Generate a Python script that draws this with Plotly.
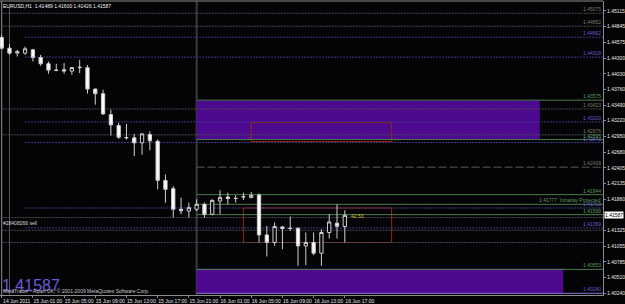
import plotly.graph_objects as go

# ---------------- data ----------------
bars = list(range(45))
opens = [1.44655, 1.44473, 1.44387, 1.44387, 1.44444, 1.44311, 1.44203, 1.44094, 1.44100, 1.44077,
         1.44137, 1.44134, 1.43767, 1.43687, 1.43325, 1.43136, 1.42924, 1.42924, 1.42838, 1.42981,
         1.42866, 1.42190, 1.42047, 1.41691, 1.41661, 1.41691, 1.41777, 1.41605, 1.41833, 1.41902,
         1.41880, 1.41909, 1.41892, 1.41937, 1.41248, 1.41118, 1.41386, 1.41364, 1.41364, 1.41059,
         1.41118, 1.40933, 1.41290, 1.41450, 1.41394]
highs = [1.44702, 1.44547, 1.44444, 1.44500, 1.44461, 1.44358, 1.44242, 1.44203, 1.44215, 1.44142,
         1.44272, 1.44180, 1.43772, 1.43755, 1.43411, 1.43182, 1.43165, 1.42993, 1.42998, 1.43038,
         1.42895, 1.42293, 1.42092, 1.41892, 1.41806, 1.41863, 1.41806, 1.41863, 1.42018, 1.41978,
         1.41932, 1.41978, 1.41988, 1.41966, 1.41403, 1.41462, 1.41403, 1.41565, 1.41376, 1.41290,
         1.41290, 1.41346, 1.41605, 1.41777, 1.41673]
lows = [1.44452, 1.44358, 1.44328, 1.44358, 1.44242, 1.44168, 1.44031, 1.44074, 1.44031, 1.44013,
        1.44043, 1.43687, 1.43497, 1.43325, 1.42964, 1.42907, 1.42895, 1.42608, 1.42632, 1.42711,
        1.42035, 1.41806, 1.41548, 1.41605, 1.41548, 1.41656, 1.41548, 1.41587, 1.41605, 1.41777,
        1.41806, 1.41851, 1.41889, 1.41118, 1.40877, 1.41059, 1.41002, 1.41317, 1.40715, 1.40727,
        1.40899, 1.40715, 1.41186, 1.41186, 1.41118]
closes = [1.44473, 1.44387, 1.44414, 1.44461, 1.44311, 1.44203, 1.44094, 1.44089, 1.44079, 1.44139,
          1.44142, 1.43767, 1.43687, 1.43337, 1.43148, 1.42935, 1.42929, 1.42838, 1.42993, 1.42873,
          1.42190, 1.42035, 1.41691, 1.41665, 1.41720, 1.41777, 1.41605, 1.41845, 1.41892, 1.41875,
          1.41877, 1.41906, 1.41932, 1.41248, 1.41118, 1.41393, 1.41359, 1.41360, 1.41059, 1.41118,
          1.40933, 1.41290, 1.41472, 1.41398, 1.41587]

x_tick_bars = [0, 4, 8, 12, 16, 20, 24, 28, 32, 36, 40, 44]
x_tick_text = ["14 Jun 2011", "15 Jun 01:00", "15 Jun 05:00", "15 Jun 09:00", "15 Jun 13:00",
               "15 Jun 17:00", "15 Jun 21:00", "16 Jun 01:00", "16 Jun 05:00", "16 Jun 09:00",
               "16 Jun 13:00", "16 Jun 17:00"]
y_tick_text = ["1.40240", "1.40510", "1.40785", "1.41055", "1.41325", "1.41860", "1.42135",
               "1.42405", "1.42680", "1.42950", "1.43220", "1.43490", "1.43760", "1.44030",
               "1.44300", "1.44575", "1.44845", "1.45115"]

gray_dot_levels = [1.45075, 1.44852, 1.43423, 1.42976, 1.41548, 1.41329, 1.41118]
gray_labelled = [1.45075, 1.44852, 1.43423, 1.42976]
blue_dot_levels = [1.44662, 1.44318, 1.43200, 1.42843, 1.41713, 1.41369]
green_levels = [1.43575, 1.42895, 1.41944, 1.41777, 1.41599, 1.40653]
green_suffix = ["", "", "", "  Intraday Projected", "", ""]
pivot_level = 1.42418
bottom_level = 1.40240

zone_start_bar = 25
upper_zone = (25, 69, 1.42895, 1.43575)
lower_zone = (25, 72, 1.40240, 1.40653)
red_boxes = [(32, 50, 1.42861, 1.43188), (31, 50, 1.41118, 1.41713)]

header_text = "EURUSD,H1  1.41489 1.41600 1.41426 1.41587"
last_price = 1.41587
order_text = "#28408266 sell"
order_level = 1.41462
profit_text = "42.53"
profit_pos = (45.6, 1.41575)

XMIN, XMAX = -0.217, 77.11
YMIN, YMAX = 1.40211, 1.45287

FONT = "Liberation Sans"
GRAY = "#4a4a54"
BLUE = "#3a3a8a"
GREEN = "#4a7c4a"

fig = go.Figure()
fig.add_trace(go.Candlestick(
    x=bars, open=opens, high=highs, low=lows, close=closes,
    increasing=dict(line=dict(color="#d0d0d0", width=1), fillcolor="#000000"),
    decreasing=dict(line=dict(color="#d0d0d0", width=1), fillcolor="#ffffff"),
    whiskerwidth=0, showlegend=False, hoverinfo="skip"))

shapes = []
for (x0, x1, y0, y1) in [upper_zone, lower_zone]:
    shapes.append(dict(type="rect", xref="x", yref="y", x0=x0, x1=x1, y0=y0, y1=y1,
                       fillcolor="#4d0a90", line=dict(width=0), layer="below"))
shapes.append(dict(type="line", xref="x", yref="y", x0=lower_zone[0], x1=lower_zone[1],
                   y0=lower_zone[3], y1=lower_zone[3], line=dict(color="#8a5ad8", width=1), layer="below"))
for (x0, x1, y0, y1) in red_boxes:
    shapes.append(dict(type="rect", xref="x", yref="y", x0=x0, x1=x1, y0=y0, y1=y1,
                       line=dict(color="#962808", width=1), layer="below"))
for v in gray_dot_levels:
    shapes.append(dict(type="line", xref="x", yref="y", x0=0, x1=XMAX, y0=v, y1=v,
                       line=dict(color=GRAY, width=1, dash="2px,1px"), layer="below"))
for v in blue_dot_levels:
    shapes.append(dict(type="line", xref="x", yref="y", x0=3, x1=XMAX, y0=v, y1=v,
                       line=dict(color=BLUE, width=1, dash="2px,1px"), layer="below"))
for v in green_levels:
    shapes.append(dict(type="line", xref="x", yref="y", x0=zone_start_bar, x1=XMAX, y0=v, y1=v,
                       line=dict(color=GREEN, width=1), layer="below"))
shapes.append(dict(type="line", xref="x", yref="y", x0=zone_start_bar, x1=XMAX, y0=pivot_level, y1=pivot_level,
                   line=dict(color="#5a5a5a", width=1, dash="8px,3px"), layer="below"))
shapes.append(dict(type="line", xref="x", yref="y", x0=zone_start_bar, x1=XMAX, y0=bottom_level, y1=bottom_level,
                   line=dict(color="#9070d8", width=1), layer="below"))
shapes.append(dict(type="line", xref="x", yref="paper", x0=zone_start_bar, x1=zone_start_bar, y0=0, y1=1,
                   line=dict(color="#3a3a3a", width=2), layer="below"))
shapes.append(dict(type="line", xref="x", yref="paper", x0=1, x1=1, y0=0, y1=0.98,
                   line=dict(color="#555555", width=1), layer="below"))
shapes.append(dict(type="line", xref="x", yref="paper", x0=0, x1=0, y0=0, y1=1,
                   line=dict(color="#909090", width=1), layer="below"))
shapes.append(dict(type="line", xref="paper", yref="paper", x0=0, x1=1, y0=1, y1=1,
                   line=dict(color="#8c8c8c", width=1)))

ann = []
def rlabel(v, text, color):
    ann.append(dict(xref="paper", yref="y", x=1, y=v, xanchor="right", yanchor="bottom", xshift=-1,
                    text=text, showarrow=False, borderpad=0,
                    font=dict(family=FONT, size=5, color=color)))

for v in gray_labelled:
    rlabel(v, f"{v:.5f}", "#7a7a66")
for v in blue_dot_levels:
    rlabel(v, f"{v:.5f}", "#6a5acd")
for v, s in zip(green_levels, green_suffix):
    rlabel(v, f"{v:.5f}{s}", "#5a9a5a")
rlabel(pivot_level, f"{pivot_level:.5f}", "#7a7a7a")
rlabel(bottom_level, f"{bottom_level:.5f}", "#6a5acd")

ann.append(dict(xref="paper", yref="y", x=1, y=last_price, xanchor="left", yanchor="middle", xshift=1,
                text=f"{last_price:.5f}", showarrow=False, bgcolor="#ffffff", borderpad=0,
                font=dict(family=FONT, size=5, color="#000000")))
ann.append(dict(xref="paper", yref="paper", x=0, y=1, xanchor="left", yanchor="top", xshift=2, yshift=-1,
                text=header_text, showarrow=False, borderpad=0,
                font=dict(family=FONT, size=5, color="#f0f0f0")))
ann.append(dict(xref="paper", yref="paper", x=0, y=0, xanchor="left", yanchor="bottom", xshift=1, yshift=0,
                text=f"{last_price:.5f}", showarrow=False, borderpad=0,
                font=dict(family=FONT, size=16, color="#6a5ad8")))
ann.append(dict(xref="paper", yref="paper", x=0, y=0, xanchor="left", yanchor="bottom", xshift=2, yshift=0,
                text="MetaTrader - Alpari UK, © 2001-2009 MetaQuotes Software Corp.", showarrow=False,
                borderpad=0, font=dict(family=FONT, size=5, color="#c8c8c8")))
ann.append(dict(xref="paper", yref="y", x=0, y=order_level, xanchor="left", yanchor="middle", xshift=2,
                text=order_text, showarrow=False, borderpad=0,
                font=dict(family=FONT, size=5, color="#d8d8d8")))
ann.append(dict(xref="x", yref="y", x=profit_pos[0], y=profit_pos[1], xanchor="center", yanchor="middle",
                text=profit_text, showarrow=False, borderpad=0,
                font=dict(family=FONT, size=5, color="#c8c800")))

fig.update_layout(
    width=625, height=304, margin=dict(l=0, r=18, t=1, b=8),
    paper_bgcolor="#040406", plot_bgcolor="#040406",
    boxgap=0.4, shapes=shapes, annotations=ann, showlegend=False,
    xaxis=dict(range=[XMIN, XMAX], showgrid=False, zeroline=False, showline=True,
               linecolor="#8c8c8c", linewidth=1, ticks="outside", ticklen=2, tickcolor="#8c8c8c",
               tickvals=x_tick_bars, ticktext=x_tick_text, ticklabelshift=15, ticklabelstandoff=-1,
               tickfont=dict(family=FONT, size=5, color="#e8e8e8"),
               rangeslider=dict(visible=False), fixedrange=True),
    yaxis=dict(side="right", range=[YMIN, YMAX], showgrid=False, zeroline=False, showline=True,
               linecolor="#8c8c8c", linewidth=1, ticks="outside", ticklen=2, tickcolor="#8c8c8c",
               tickvals=[float(t) for t in y_tick_text], ticktext=y_tick_text,
               tickfont=dict(family=FONT, size=5, color="#e8e8e8"), fixedrange=True),
)

fig.write_html("out.html")
